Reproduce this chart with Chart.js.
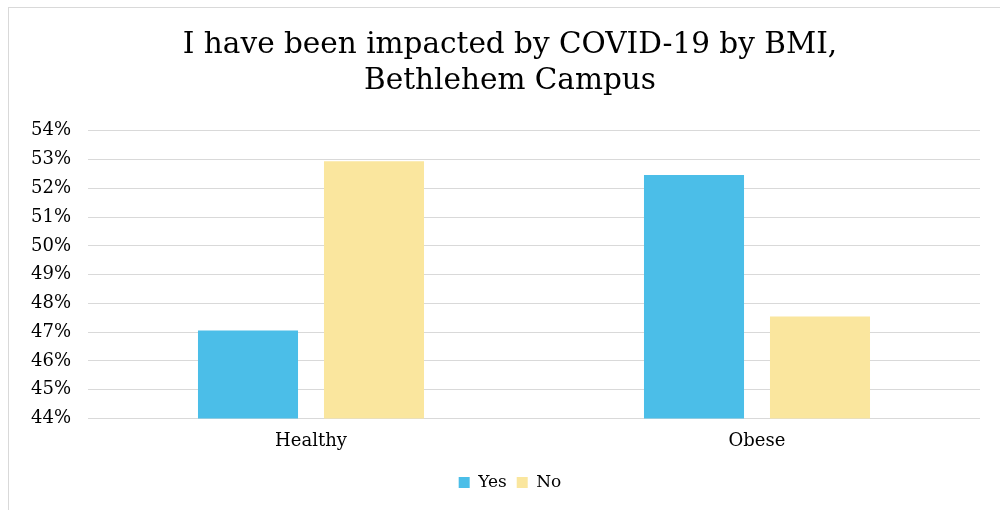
<!DOCTYPE html>
<html>
<head>
<meta charset="utf-8">
<script src="https://cdn.jsdelivr.net/npm/chart.js@4"></script>
<style>
  html, body { margin: 0; padding: 0; background: #fff; overflow: hidden; }
  #frame {
    position: absolute; left: 8px; top: 7px;
    width: 1004px; height: 510px;
    border: 1px solid #d9d9d9;
  }
  #box { position: relative; width: 1002px; height: 503px; }
</style>
</head>
<body>
<div id="frame"><div id="box"><canvas id="bmiChart"></canvas></div></div>
<script>
const categories = ['Healthy', 'Obese'];
const yesValues = [47.06, 52.46];
const noValues = [52.94, 47.54];
const seriesLabels = ['Yes', 'No'];

document.addEventListener('DOMContentLoaded', function() {
    const ctx = document.getElementById('bmiChart').getContext('2d');
    const serif = "'DejaVu Serif', serif";

    new Chart(ctx, {
        type: 'bar',
        data: {
            labels: categories,
            datasets: [
                {
                    label: seriesLabels[0],
                    data: yesValues,
                    backgroundColor: '#4bbee8'
                },
                {
                    label: seriesLabels[1],
                    data: noValues,
                    backgroundColor: '#fae69e'
                }
            ]
        },
        options: {
            responsive: true,
            maintainAspectRatio: false,
            animation: false,
            categoryPercentage: 0.565,
            barPercentage: 0.794,
            layout: { padding: { left: 0, right: 0, top: 0, bottom: 10 } },
            scales: {
                x: {
                    grid: { display: false, drawTicks: false },
                    border: { display: false },
                    ticks: {
                        color: '#000',
                        padding: 12,
                        font: { family: serif, size: 18 }
                    }
                },
                y: {
                    min: 44,
                    max: 54,
                    afterFit: function(scale) { scale.width = 79; },
                    grid: { color: '#d9d9d9', lineWidth: 1, drawTicks: false },
                    border: { display: false },
                    ticks: {
                        stepSize: 1,
                        color: '#000',
                        padding: 17,
                        font: { family: serif, size: 18 },
                        callback: function(value) { return value + '%'; }
                    }
                },
                // empty spacer on the right so the plot ends at ~980px while title/legend stay centred
                spacer: {
                    position: 'right',
                    min: 0,
                    max: 1,
                    afterFit: function(scale) { scale.width = 31; },
                    grid: { display: false, drawTicks: false },
                    border: { display: false },
                    ticks: { display: false }
                }
            },
            plugins: {
                title: {
                    display: true,
                    text: ['I have been impacted by COVID-19 by BMI,', 'Bethlehem Campus'],
                    color: '#000',
                    font: { family: serif, size: 29.5, weight: 'normal', lineHeight: 1.2 },
                    padding: { top: 20, bottom: 32 }
                },
                legend: {
                    position: 'bottom',
                    labels: {
                        color: '#000',
                        boxWidth: 11,
                        boxHeight: 11,
                        padding: 10,
                        font: { family: serif, size: 17 }
                    }
                },
                tooltip: { enabled: false }
            }
        }
    });
});
</script>
</body>
</html>
